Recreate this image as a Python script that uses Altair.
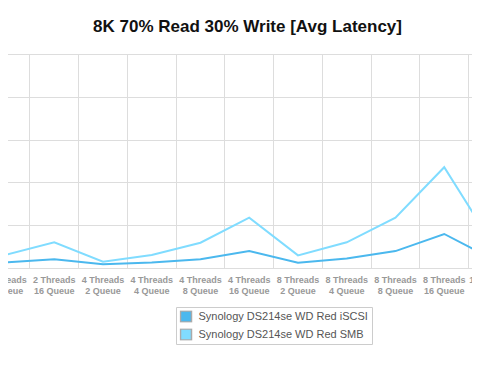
import altair as alt
import pandas as pd

# x categories (visible part of the chart, incl. the two cut off at the edges)
threads = ["2 Threads", "2 Threads", "4 Threads", "4 Threads", "4 Threads", "4 Threads",
           "8 Threads", "8 Threads", "8 Threads", "8 Threads", "16 Threads"]
queues = ["8 Queue", "16 Queue", "2 Queue", "4 Queue", "8 Queue", "16 Queue",
          "2 Queue", "4 Queue", "8 Queue", "16 Queue", "2 Queue"]

# average latency (ms, estimated)
iscsi = [2.6, 4.1, 1.7, 2.6, 4.1, 7.9, 2.5, 4.4, 7.9, 15.9, 4.0]
smb = [6.1, 12.0, 2.9, 6.1, 11.8, 23.5, 5.9, 12.0, 23.5, 47.1, 10.8]

series = ["Synology DS214se WD Red iSCSI", "Synology DS214se WD Red SMB"]
colors = ["#4BB8EE", "#80DCFF"]
y_ticks = [0, 20, 40, 60, 80, 100]

cats = [f"{t} {q}" for t, q in zip(threads, queues)]
rows = []
for name, vals in zip(series, [iscsi, smb]):
    for c, v in zip(cats, vals):
        rows.append({"config": c, "series": name, "latency": v})
df = pd.DataFrame(rows)

FONT = "Liberation Sans"
W = 464
H = 214

x_enc = alt.X(
    "config:N", sort=cats,
    scale=alt.Scale(type="band", paddingInner=0, paddingOuter=0, range=[-26.9, 509.35]),
    axis=alt.Axis(
        title=None, grid=True, gridColor="#dddddd", bandPosition=0,
        ticks=False, domain=False, labelAngle=0, labelFont=FONT,
        labelFontSize=9, labelFontWeight="bold", labelColor="#999999",
        labelPadding=7, labelLineHeight=11,
        labelExpr="[substring(datum.label, 0, indexof(datum.label, 's ') + 1), substring(datum.label, indexof(datum.label, 's ') + 2)]",
    ),
)
y_enc = alt.Y(
    "latency:Q",
    scale=alt.Scale(domain=[0, 100], nice=False),
    axis=alt.Axis(title=None, labels=False, ticks=False, domain=False,
                  grid=True, gridColor="#dddddd", values=y_ticks),
)

# lines: stroke scale listed in reverse order (same mapping) so that its
# hidden legend is not merged with the visible fill legend
lines = alt.Chart(df).mark_line(strokeWidth=2).encode(
    x=x_enc, y=y_enc,
    stroke=alt.Stroke("series:N", scale=alt.Scale(domain=series[::-1], range=colors[::-1]),
                      legend=None),
)

legend_layer = alt.Chart(df).mark_square(
    filled=True, stroke="#aaaaaa", strokeWidth=1, size=0, opacity=1
).encode(
    x=x_enc, y=y_enc,
    fill=alt.Fill(
        "series:N",
        scale=alt.Scale(domain=series, range=colors),
        legend=alt.Legend(
            title=None, orient="none", legendX=168, legendY=253,
            strokeColor="#cccccc", fillColor="white", padding=3.5,
            symbolType="square", symbolSize=121, clipHeight=12,
            labelFont=FONT, labelFontSize=11, labelLimit=0,
            labelColor="#555555", labelOffset=6, rowPadding=6,
            direction="vertical",
        ),
    ),
)

chart = alt.layer(lines, legend_layer).properties(
    width=W, height=H,
    title=alt.Title(
        text="8K 70% Read 30% Write [Avg Latency]", font=FONT, fontSize=17,
        fontWeight="bold", color="#111111", anchor="middle", frame="group",
        baseline="alphabetic", offset=5, dx=7.5,
    ),
    autosize=alt.AutoSizeParams(type="none"),
    padding={"left": 0, "top": 46, "right": 0, "bottom": 85},
).configure_view(strokeWidth=0)

chart.save("out.html", embed_options={"renderer": "svg", "actions": False})
